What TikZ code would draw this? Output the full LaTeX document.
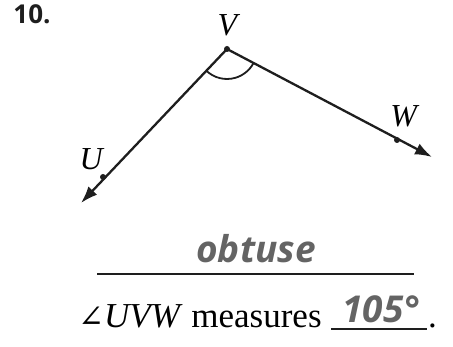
\documentclass[tikz,border=0pt]{standalone}
\usepackage{fontspec}
\setmainfont{Liberation Serif}
\usetikzlibrary{positioning,calc,angles}
\usetikzlibrary{arrows.meta}
\newfontfamily\handfont{Open Sans}
\newfontfamily\symfont{DejaVu Serif}
\definecolor{InkBlack}{RGB}{30,30,30}
\definecolor{PenGray}{RGB}{100,100,100}
\tikzset{
	dot/.style={circle,fill=InkBlack,inner sep=0pt,minimum size=6pt},
	ray/.style={draw=InkBlack,line width=2.3pt,-{Latex[length=17pt,width=12pt]}},
	lbl/.style={font=\fontsize{32}{33}\selectfont,inner sep=0pt},
	stmtfont/.style={font=\fontsize{35}{36}\selectfont,inner sep=0pt},
	ans/.style={text=PenGray,font=\handfont\bfseries\itshape\fontsize{37}{38}\selectfont,inner sep=0pt},
	blank/.style={draw=InkBlack,line width=1.2pt},
}

\begin{document}
\begin{tikzpicture}[x=1pt,y=1pt]
	\useasboundingbox (0,0) rectangle (453,347);
	\coordinate (V) at (227,298);
	\coordinate (U) at (103,170);
	\coordinate (W) at (397,207);
	\coordinate (Uend) at (81,144);
	\coordinate (Wend) at (432,190);
	\foreach \x/\y in {V/Uend,V/Wend}
	\draw[ray] (\x)--(\y);
	\pic[draw=InkBlack,line width=1.8pt,angle radius=30pt] {angle=U--V--W};
	\foreach \p in {U,V,W}
	\node[dot] (\p dot) at (\p) {};
	\foreach \p/\pos in {V/{229,322},U/{92,188},W/{405,231}}
	\node[lbl] (\p lab) at (\pos) {\textit{\p}};
	\node[font=\handfont\bfseries\fontsize{26}{27}\selectfont,inner sep=0pt,text=InkBlack] (num) at (32,333) {10.};
	% answer line for the kind of angle
	\node[ans,anchor=base] (kind) at (256,84) {obtuse};
	\coordinate (lineL) at (97,73);
	\coordinate (lineR) at (414,73);
	\draw[blank] (lineL)--(lineR);
	% statement with the measure
	\node[stmtfont,anchor=base west] (stmt) at (78,19) {{\symfont\fontsize{31}{32}\selectfont ∠}\textit{UVW} measures};
	\coordinate (gapL) at (331,18);
	\coordinate (gapR) at (427,18);
	\draw[blank] (gapL)--(gapR);
	\node[ans,anchor=base] (deg) at (381,24) {105°};
	\node[stmtfont,anchor=base west] (stop) at ($(gapR)+(1,1)$) {.};
\end{tikzpicture}
\end{document}
